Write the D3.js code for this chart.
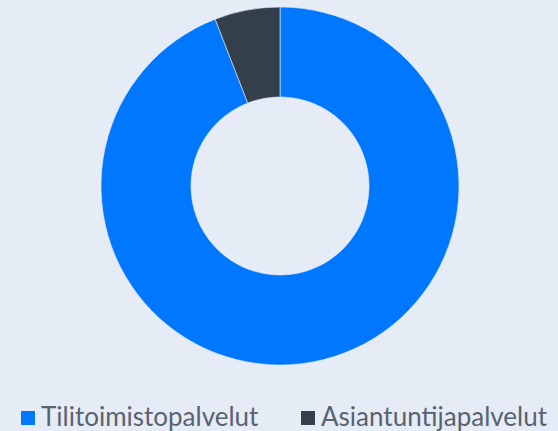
<!DOCTYPE html>
<html><head><meta charset="utf-8">
<script src="https://cdn.jsdelivr.net/npm/d3@7"></script>
<style>html,body{margin:0;padding:0;background:#e5ecf6;}svg{display:block;}</style>
</head><body>
<svg id="c" width="558" height="431"></svg>
<script>
const categories = ["Tilitoimistopalvelut", "Asiantuntijapalvelut"];
const values = [94.1, 5.9];
const colors = ["#0077ff", "#333f4b"];

const svg = d3.select("#c");
const cx = 280, cy = 186, R = 179, r = 89;
const pie = d3.pie().sort(null);
const arcs = pie(values);
const arc = d3.arc().innerRadius(r).outerRadius(R);
const g = svg.append("g").attr("transform", `translate(${cx},${cy})`);
g.selectAll("path").data(arcs).join("path")
  .attr("d", arc)
  .attr("fill", (d, i) => colors[i])
  .attr("stroke", "#e5ecf6").attr("stroke-width", 0.6);

const legendX = [21, 301];
const lg = svg.append("g");
categories.forEach((c, i) => {
  lg.append("rect").attr("x", legendX[i]).attr("y", 411).attr("width", 14).attr("height", 14).attr("fill", colors[i]);
  lg.append("text").attr("x", legendX[i] + 20).attr("y", 425.5)
    .attr("font-family", "Lato, sans-serif").attr("font-size", 26)
    .attr("fill", "#5a6270").text(c);
});
</script>
</body></html>
